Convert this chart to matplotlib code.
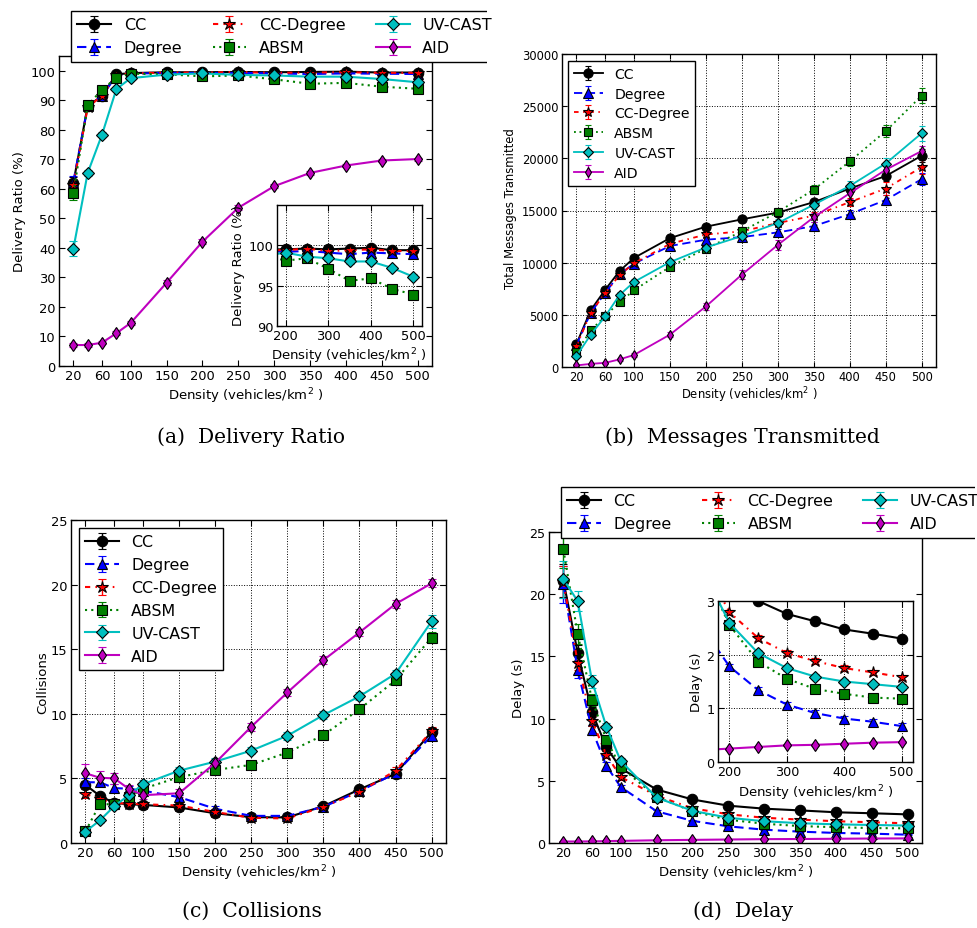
import matplotlib
matplotlib.use("Agg")
import matplotlib.pyplot as plt
from matplotlib.transforms import Bbox, TransformedBbox

# ---------------------------------------------------------------- data
density = [20, 40, 60, 80, 100, 150, 200, 250, 300, 350, 400, 450, 500]
density_ticks = [20, 60, 100, 150, 200, 250, 300, 350, 400, 450, 500]
protocols = ["CC", "Degree", "CC-Degree", "ABSM", "UV-CAST", "AID"]

# Delivery ratio (%)
dr_cc     = [62.0, 88.0, 91.5, 98.8, 99.2, 99.5, 99.5, 99.6, 99.5, 99.6, 99.7, 99.4, 99.4]
dr_degree = [62.3, 88.0, 91.3, 98.5, 99.0, 99.3, 99.2, 99.3, 99.1, 98.9, 99.1, 99.0, 98.9]
dr_ccdeg  = [61.2, 87.6, 91.6, 98.6, 99.1, 99.4, 99.4, 99.6, 99.3, 99.4, 99.5, 99.3, 99.3]
dr_absm   = [58.6, 88.3, 93.6, 97.6, 99.0, 98.8, 98.1, 98.4, 97.1, 95.6, 95.9, 94.6, 93.9]
dr_uvcast = [39.7, 65.4, 78.4, 93.8, 97.5, 98.7, 99.1, 98.6, 98.4, 98.0, 98.0, 97.2, 96.1]
dr_aid    = [7.1, 7.1, 7.9, 11.1, 14.6, 28.2, 42.1, 53.6, 60.9, 65.4, 67.9, 69.6, 70.1]
dr_err_cc     = [2.0, 0.8, 0.6, 0.4, 0.3, 0.2, 0.2, 0.2, 0.2, 0.2, 0.2, 0.2, 0.2]
dr_err_degree = [2.2, 0.8, 0.6, 0.4, 0.3, 0.2, 0.2, 0.2, 0.2, 0.2, 0.2, 0.2, 0.2]
dr_err_ccdeg  = [2.0, 0.8, 0.6, 0.4, 0.3, 0.2, 0.2, 0.2, 0.2, 0.2, 0.2, 0.2, 0.2]
dr_err_absm   = [2.5, 0.9, 0.7, 0.5, 0.3, 0.3, 0.3, 0.3, 0.3, 0.3, 0.3, 0.3, 0.3]
dr_err_uvcast = [2.5, 1.0, 0.8, 0.6, 0.4, 0.3, 0.3, 0.3, 0.3, 0.3, 0.3, 0.3, 0.3]
dr_err_aid    = [0.8, 0.6, 0.6, 0.7, 0.8, 0.9, 0.9, 0.8, 0.7, 0.6, 0.5, 0.5, 0.5]

# Total messages transmitted
msg_cc     = [2200, 5450, 7400, 9200, 10450, 12350, 13450, 14150, 14800, 15800, 17100, 18300, 20250]
msg_degree = [2100, 5200, 7100, 8900, 9900, 11600, 12200, 12450, 12900, 13500, 14650, 16000, 18000]
msg_ccdeg  = [2000, 5200, 7100, 8800, 9950, 11800, 12700, 13000, 13800, 14500, 15800, 17100, 19150]
msg_absm   = [1450, 3500, 4900, 6200, 7350, 9600, 11350, 13000, 14850, 17000, 19700, 22600, 26000]
msg_uvcast = [1050, 3100, 4850, 6900, 8150, 10050, 11450, 12550, 13800, 15550, 17350, 19500, 22400]
msg_aid    = [150, 300, 400, 730, 1150, 3100, 5800, 8850, 11700, 14350, 16650, 18900, 20700]
msg_err_cc     = [200, 250, 250, 250, 250, 300, 300, 300, 300, 350, 400, 500, 600]
msg_err_degree = [200, 250, 250, 250, 250, 300, 300, 300, 300, 350, 400, 500, 600]
msg_err_ccdeg  = [200, 250, 250, 250, 250, 300, 300, 300, 300, 350, 400, 600, 650]
msg_err_absm   = [200, 250, 250, 250, 300, 300, 300, 350, 350, 400, 450, 600, 700]
msg_err_uvcast = [200, 250, 250, 250, 300, 300, 300, 350, 350, 400, 450, 500, 700]
msg_err_aid    = [100, 100, 100, 150, 200, 250, 350, 400, 450, 450, 500, 500, 500]

# Collisions
col_cc     = [4.5, 3.65, 3.1, 3.0, 2.95, 2.75, 2.3, 2.0, 1.98, 2.85, 4.15, 5.35, 8.6]
col_degree = [4.7, 4.7, 4.25, 4.2, 4.05, 3.55, 2.65, 2.1, 2.1, 2.8, 4.0, 5.4, 8.3]
col_ccdeg  = [3.8, 3.4, 3.1, 3.05, 3.0, 2.9, 2.4, 1.95, 1.9, 2.8, 3.95, 5.6, 8.65]
col_absm   = [0.9, 3.0, 3.0, 3.55, 4.2, 5.1, 5.65, 6.05, 7.0, 8.35, 10.35, 12.6, 15.9]
col_uvcast = [0.88, 1.75, 2.85, 3.7, 4.55, 5.6, 6.3, 7.15, 8.3, 9.9, 11.35, 13.1, 17.15]
col_aid    = [5.4, 5.05, 5.0, 4.2, 3.7, 3.85, 6.2, 9.0, 11.65, 14.15, 16.3, 18.5, 20.1]
col_err_cc     = [0.3, 0.2, 0.2, 0.2, 0.2, 0.2, 0.2, 0.2, 0.2, 0.2, 0.2, 0.2, 0.3]
col_err_degree = [0.35, 0.3, 0.3, 0.2, 0.2, 0.2, 0.2, 0.2, 0.2, 0.2, 0.2, 0.2, 0.3]
col_err_ccdeg  = [0.35, 0.3, 0.2, 0.2, 0.2, 0.2, 0.2, 0.2, 0.2, 0.2, 0.2, 0.3, 0.3]
col_err_absm   = [0.2, 0.2, 0.2, 0.2, 0.3, 0.3, 0.3, 0.3, 0.3, 0.3, 0.3, 0.3, 0.4]
col_err_uvcast = [0.2, 0.2, 0.2, 0.2, 0.3, 0.3, 0.3, 0.3, 0.3, 0.3, 0.3, 0.3, 0.5]
col_err_aid    = [0.7, 0.5, 0.4, 0.3, 0.3, 0.3, 0.3, 0.3, 0.3, 0.3, 0.3, 0.3, 0.3]

# End-to-end delay (s)
dl_cc     = [21.1, 15.3, 10.5, 7.7, 6.0, 4.3, 3.5, 3.0, 2.76, 2.62, 2.47, 2.39, 2.30]
dl_degree = [20.8, 13.9, 9.1, 6.2, 4.5, 2.55, 1.78, 1.34, 1.07, 0.91, 0.81, 0.75, 0.67]
dl_ccdeg  = [21.0, 14.5, 9.8, 7.1, 5.3, 3.8, 2.79, 2.31, 2.03, 1.88, 1.75, 1.67, 1.58]
dl_absm   = [23.6, 16.8, 11.5, 8.3, 6.1, 3.7, 2.55, 1.87, 1.55, 1.36, 1.27, 1.20, 1.18]
dl_uvcast = [21.2, 19.45, 13.0, 9.35, 6.6, 3.65, 2.59, 2.03, 1.75, 1.59, 1.50, 1.45, 1.40]
dl_aid    = [0.12, 0.12, 0.13, 0.15, 0.17, 0.22, 0.25, 0.28, 0.31, 0.32, 0.34, 0.36, 0.37]
dl_err_cc     = [1.3, 0.6, 0.4, 0.3, 0.2, 0.1, 0.05, 0.05, 0.05, 0.05, 0.05, 0.05, 0.05]
dl_err_degree = [1.5, 0.6, 0.4, 0.3, 0.2, 0.1, 0.05, 0.05, 0.05, 0.05, 0.05, 0.05, 0.05]
dl_err_ccdeg  = [1.3, 0.6, 0.4, 0.3, 0.2, 0.1, 0.05, 0.05, 0.05, 0.05, 0.05, 0.05, 0.05]
dl_err_absm   = [1.5, 0.8, 0.5, 0.3, 0.2, 0.1, 0.05, 0.05, 0.05, 0.05, 0.05, 0.05, 0.05]
dl_err_uvcast = [1.5, 0.8, 0.5, 0.3, 0.2, 0.1, 0.05, 0.05, 0.05, 0.05, 0.05, 0.05, 0.05]
dl_err_aid    = [0.02, 0.02, 0.02, 0.02, 0.02, 0.02, 0.02, 0.02, 0.02, 0.02, 0.02, 0.02, 0.02]

# ---------------------------------------------------------------- styles
colors = ["k", "b", "r", "g", "c", "m"]
linestyles = ["-", (0, (4.5, 2.5)), (0, (2.5, 2.5, 0.8, 2.5)), (0, (1, 2)), "-", "-"]
markers = ["o", "^", "*", "s", "D", "d"]
marker_scale = [1.0, 1.05, 1.15, 0.95, 0.75, 0.8]

W, H = 978, 929
fig = plt.figure(figsize=(W / 100, H / 100), dpi=100)


def rect(left, top, right, bottom):
    return [left / W, 1 - bottom / H, (right - left) / W, (bottom - top) / H]


def plot_series(ax, values, errors, s=1.0):
    for i, (name, y, e) in enumerate(zip(protocols, values, errors)):
        ax.errorbar(density, y, yerr=e, color=colors[i], ls=linestyles[i],
                    lw=1.5 * s, marker=markers[i], ms=7.5 * s * marker_scale[i],
                    mfc=colors[i], mec="k", mew=0.8, elinewidth=1.0 * s,
                    capsize=2.8 * s, capthick=1.0 * s, label=name)


def style(ax, fs, grid, pad=2.5, s=1.0):
    ax.tick_params(direction="in", top=True, right=True, length=4 * s,
                   width=0.8, labelsize=fs, pad=pad)
    for sp in ax.spines.values():
        sp.set_linewidth(1.0)
    if grid:
        ax.grid(True, ls=":", color="k", lw=0.7)


def add_legend(ax, x, y, fs, ncol, clip_right=None, **kw):
    leg = ax.legend(loc="upper left", bbox_to_anchor=(x / W, 1 - y / H),
                    bbox_transform=fig.transFigure, ncol=ncol, fontsize=fs,
                    borderaxespad=0, fancybox=False, framealpha=1,
                    edgecolor="k", handlelength=2.1, borderpad=0.4, **kw)
    leg.get_frame().set_linewidth(1.0)
    if clip_right is not None:
        # the frame runs on past the panel's right border
        box = TransformedBbox(Bbox([[0, 0], [clip_right / W, 1]]), fig.transFigure)
        leg.legendPatch.set_clip_box(box)
        leg.legendPatch.set_clip_on(True)
    return leg


xlabel = "Density (vehicles/km$^2$ )"

# ---------------------------------------------------------------- (a) delivery ratio
dr = [dr_cc, dr_degree, dr_ccdeg, dr_absm, dr_uvcast, dr_aid]
dr_err = [dr_err_cc, dr_err_degree, dr_err_ccdeg, dr_err_absm, dr_err_uvcast, dr_err_aid]
ax = fig.add_axes(rect(59, 57, 432, 367))
plot_series(ax, dr, dr_err)
ax.set_xlim(0, 520)
ax.set_ylim(0, 105)
ax.set_xticks(density_ticks)
ax.set_yticks(range(0, 101, 10))
style(ax, 9.4, grid=False)
ax.set_xlabel(xlabel, fontsize=9.5)
ax.set_ylabel("Delivery Ratio (%)", fontsize=9.5)
ax.xaxis.set_label_coords(0.5, -0.061)
ax.yaxis.set_label_coords(-0.088, 0.5)
add_legend(ax, 71, 12, 11.5, 3, clip_right=487, labelspacing=0.5,
           columnspacing=1.9, handletextpad=0.8)

ins = fig.add_axes(rect(277, 206, 422, 327))
plot_series(ins, dr, dr_err)
ins.set_xlim(180, 520)
ins.set_ylim(90, 105)
ins.set_xticks([200, 300, 400, 500])
ins.set_yticks([90, 95, 100])
style(ins, 9.4, grid=True)
ins.set_xlabel(xlabel, fontsize=9.5)
ins.set_ylabel("Delivery Ratio (%)", fontsize=9.5)
ins.xaxis.set_label_coords(0.497, -0.157)
ins.yaxis.set_label_coords(-0.221, 0.51)

# ---------------------------------------------------------------- (b) messages
msg = [msg_cc, msg_degree, msg_ccdeg, msg_absm, msg_uvcast, msg_aid]
msg_err = [msg_err_cc, msg_err_degree, msg_err_ccdeg, msg_err_absm, msg_err_uvcast, msg_err_aid]
ax = fig.add_axes(rect(562, 55, 936, 368))
plot_series(ax, msg, msg_err, s=0.88)
ax.set_xlim(0, 520)
ax.set_ylim(0, 30000)
ax.set_xticks(density_ticks)
ax.set_yticks(range(0, 30001, 5000))
style(ax, 8.3, grid=True, s=0.88)
ax.set_xlabel(xlabel, fontsize=8.4)
ax.set_ylabel("Total Messages Transmitted", fontsize=8.4)
ax.xaxis.set_label_coords(0.5, -0.054)
ax.yaxis.set_label_coords(-0.120, 0.51)
add_legend(ax, 568, 62, 10.1, 1, labelspacing=0.42, handletextpad=0.8)

# ---------------------------------------------------------------- (c) collisions
col = [col_cc, col_degree, col_ccdeg, col_absm, col_uvcast, col_aid]
col_err = [col_err_cc, col_err_degree, col_err_ccdeg, col_err_absm, col_err_uvcast, col_err_aid]
ax = fig.add_axes(rect(71, 521, 446, 844))
plot_series(ax, col, col_err)
ax.set_xlim(0, 520)
ax.set_ylim(0, 25)
ax.set_xticks(density_ticks)
ax.set_yticks(range(0, 26, 5))
style(ax, 9.4, grid=True)
ax.set_xlabel(xlabel, fontsize=9.5)
ax.set_ylabel("Collisions", fontsize=9.5)
ax.xaxis.set_label_coords(0.5, -0.059)
ax.yaxis.set_label_coords(-0.059, 0.5)
add_legend(ax, 79, 529, 11.4, 1, labelspacing=0.5, handletextpad=0.8)

# ---------------------------------------------------------------- (d) delay
dl = [dl_cc, dl_degree, dl_ccdeg, dl_absm, dl_uvcast, dl_aid]
dl_err = [dl_err_cc, dl_err_degree, dl_err_ccdeg, dl_err_absm, dl_err_uvcast, dl_err_aid]
ax = fig.add_axes(rect(549, 533, 922, 844))
plot_series(ax, dl, dl_err)
ax.set_xlim(0, 520)
ax.set_ylim(0, 25)
ax.set_xticks(density_ticks)
ax.set_yticks(range(0, 26, 5))
style(ax, 9.2, grid=False)
ax.set_xlabel(xlabel, fontsize=9.5)
ax.set_ylabel("Delay (s)", fontsize=9.5)
ax.xaxis.set_label_coords(0.5, -0.061)
ax.yaxis.set_label_coords(-0.064, 0.5)
add_legend(ax, 561, 488, 11.4, 3, clip_right=975, labelspacing=0.5,
           columnspacing=1.9, handletextpad=0.8)

ins = fig.add_axes(rect(718, 602, 913, 763))
plot_series(ins, dl, dl_err)
ins.set_xlim(180, 520)
ins.set_ylim(0, 3)
ins.set_xticks([200, 300, 400, 500])
ins.set_yticks([0, 1, 2, 3])
style(ins, 9.2, grid=True)
ins.set_xlabel(xlabel, fontsize=9.5)
ins.set_ylabel("Delay (s)", fontsize=9.5)
ins.xaxis.set_label_coords(0.5, -0.124)
ins.yaxis.set_label_coords(-0.077, 0.5)

# ---------------------------------------------------------------- captions
cap = dict(family="DejaVu Serif", fontsize=14.6, ha="center", va="center")
fig.text(251 / W, 1 - 437 / H, "(a)  Delivery Ratio", **cap)
fig.text(742 / W, 1 - 437 / H, "(b)  Messages Transmitted", **cap)
fig.text(252 / W, 1 - 911 / H, "(c)  Collisions", **cap)
fig.text(743 / W, 1 - 911 / H, "(d)  Delay", **cap)

fig.savefig("out.png", dpi=100)
